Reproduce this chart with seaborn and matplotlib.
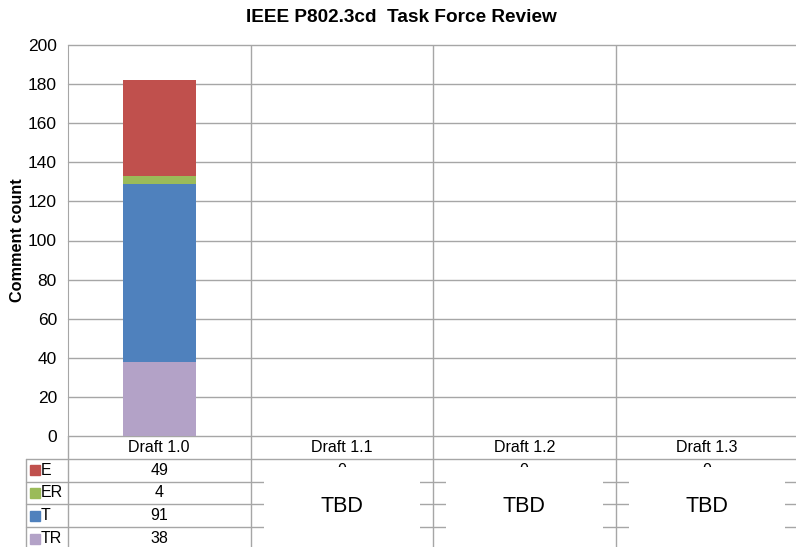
import matplotlib
matplotlib.use("Agg")
from matplotlib import pyplot as plt
from matplotlib.patches import Rectangle
from matplotlib.lines import Line2D
import pandas as pd
import seaborn as sns

# Comment counts per draft
drafts = ["Draft 1.0", "Draft 1.1", "Draft 1.2", "Draft 1.3"]
E = [49, 0, 0, 0]
ER = [4, 0, 0, 0]
T = [91, 0, 0, 0]
TR = [38, 0, 0, 0]
series = ["E", "ER", "T", "TR"]
colors = {"E": "#C0504D", "ER": "#9BBB59", "T": "#4F81BD", "TR": "#B3A2C7"}
yticks = list(range(0, 201, 20))

df = pd.DataFrame({"Draft": drafts, "E": E, "ER": ER, "T": T, "TR": TR})

sns.set_style("white")
plt.rcParams["font.family"] = ["Liberation Sans", "DejaVu Sans"]
plt.rcParams["text.color"] = "black"
plt.rcParams["xtick.color"] = "black"
plt.rcParams["ytick.color"] = "black"
plt.rcParams["axes.labelcolor"] = "black"

W, H = 796, 547
fig = plt.figure(figsize=(W / 100, H / 100), dpi=100)
ax = fig.add_axes([68 / W, 1 - 436 / H, 730 / W, 391 / H])

# stack from bottom: TR, T, ER, E
bottom = [0] * len(drafts)
for s in ["TR", "T", "ER", "E"]:
    sns.barplot(data=df, x="Draft", y=s, color=colors[s], width=0.4,
                bottom=bottom, ax=ax, saturation=1, zorder=3,
                edgecolor="none", linewidth=0)
    bottom = [b + v for b, v in zip(bottom, df[s])]

grid = "#A6A6A6"
ax.set_ylim(0, 200)
ax.set_xlim(-0.5, 3.5)
ax.set_yticks(yticks)
ax.tick_params(axis="y", labelsize=12.5, length=4, width=1, color=grid, pad=4)
ax.tick_params(axis="x", labelsize=11.5, length=0, pad=3)
for y in yticks:
    ax.axhline(y, color=grid, lw=1, zorder=1, clip_on=False)
for x in [0.5, 1.5, 2.5, 3.5]:
    ax.axvline(x, color=grid, lw=1, zorder=1)
for sp in ax.spines.values():
    sp.set_visible(False)
ax.spines["left"].set_visible(True)
ax.spines["left"].set_color(grid)
ax.set_xlabel("")
ax.set_ylabel("Comment count", fontsize=11.7, fontweight="bold", labelpad=2)

fig.text(401 / W, 1 - 18 / H, "IEEE P802.3cd  Task Force Review", ha="center",
         va="center", fontsize=13.7, fontweight="bold")

# data table under the chart, drawn in figure pixel coordinates
def fx(px):
    return px / W

def fy(py):
    return 1 - py / H

def line(x0, y0, x1, y1):
    fig.add_artist(Line2D([fx(x0), fx(x1)], [fy(y0), fy(y1)], color=grid, lw=1,
                          transform=fig.transFigure))

col_px = [ax.transData.transform((x, 0))[0] for x in [-0.5, 0.5, 1.5, 2.5, 3.5]]
row_px = [459, 481.5, 504, 527, 550]
left_px = 26

for yy in row_px[:-1]:
    line(left_px, yy, W + 5, yy)
line(left_px, row_px[0], left_px, H + 5)
for xx in col_px:
    line(xx, 436, xx, H + 5)

for i, s in enumerate(series):
    yc = (row_px[i] + row_px[i + 1]) / 2
    fig.add_artist(Rectangle((fx(30), fy(yc + 5)), 10 / W, 10 / H, color=colors[s],
                             transform=fig.transFigure))
    fig.text(fx(41), fy(yc), s, ha="left", va="center", fontsize=11.5)
    vals = df[s].tolist()
    for j, v in enumerate(vals):
        # hidden cells only peek out at the first and last rows
        if j > 0 and i in (1, 2):
            continue
        xc = (col_px[j] + col_px[j + 1]) / 2
        fig.text(fx(xc), fy(yc), str(v), ha="center", va="center", fontsize=11.5,
                 zorder=1)

# later drafts not yet reviewed: blank cells with TBD
for j in range(1, len(drafts)):
    x0, x1 = col_px[j] + 13, col_px[j + 1] - 13
    fig.add_artist(Rectangle((fx(x0), fy(543)), (x1 - x0) / W, 76 / H,
                             facecolor="white", edgecolor="none",
                             transform=fig.transFigure, zorder=5))
    fig.text(fx((col_px[j] + col_px[j + 1]) / 2), fy(506), "TBD", ha="center",
             va="center", fontsize=15.5, zorder=6)

fig.savefig("out.png", dpi=100)
